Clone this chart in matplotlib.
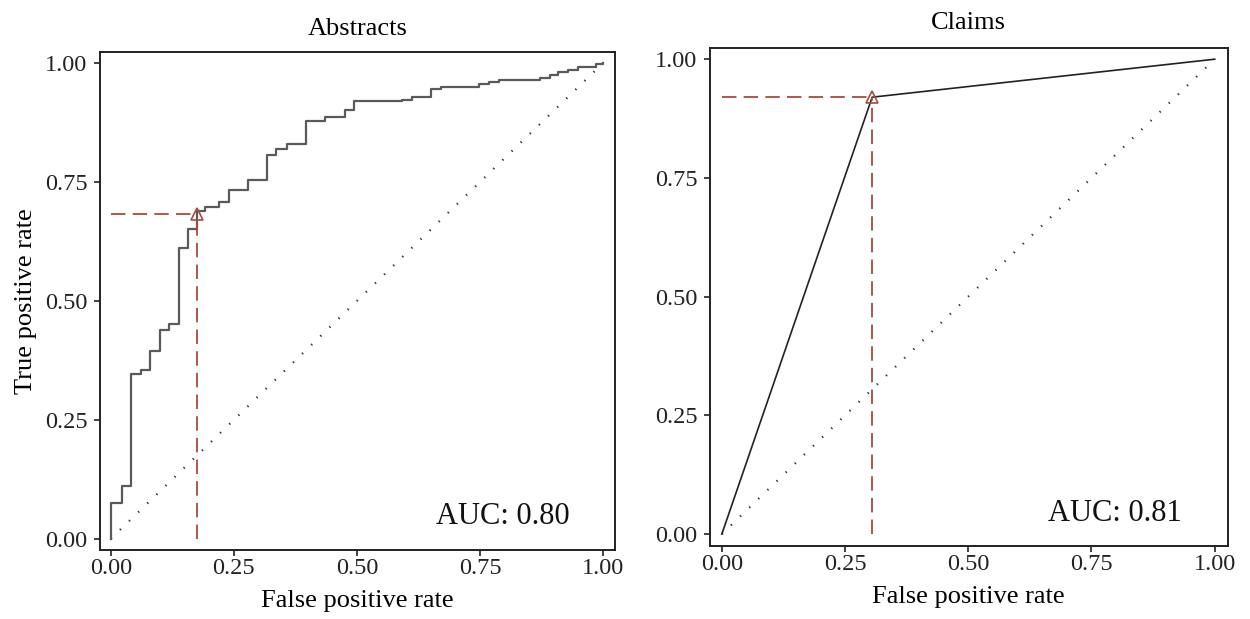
import matplotlib
matplotlib.use("Agg")
import matplotlib.pyplot as plt

plt.rcParams["font.family"] = ["Liberation Serif", "DejaVu Serif"]

# ── DATA ──────────────────────────────────────────────────────────────────────

# Abstracts ROC curve (step vertices: fpr, tpr after each jump)
abs_fpr = [0.0, 0.0, 0.022, 0.041, 0.061, 0.080, 0.100, 0.119, 0.138, 0.157,
           0.175, 0.192, 0.219, 0.240, 0.279, 0.318, 0.335, 0.357, 0.397,
           0.435, 0.475, 0.494, 0.591, 0.611, 0.651, 0.671, 0.748, 0.768,
           0.789, 0.871, 0.891, 0.908, 0.928, 0.949, 0.986, 1.0]
abs_tpr = [0.0, 0.075, 0.111, 0.347, 0.355, 0.395, 0.438, 0.452, 0.611, 0.651,
           0.688, 0.698, 0.707, 0.733, 0.753, 0.807, 0.820, 0.829, 0.877,
           0.886, 0.902, 0.919, 0.922, 0.928, 0.945, 0.950, 0.955, 0.960,
           0.964, 0.969, 0.975, 0.982, 0.985, 0.991, 0.998, 1.0]
abs_best = (0.175, 0.683)
abs_auc = "AUC: 0.80"

# Claims ROC curve (single threshold)
clm_fpr = [0.0, 0.305, 1.0]
clm_tpr = [0.0, 0.920, 1.0]
clm_best = (0.305, 0.920)
clm_auc = "AUC: 0.81"

ticks = [0.0, 0.25, 0.5, 0.75, 1.0]
tick_labels = ["0.00", "0.25", "0.50", "0.75", "1.00"]

RED = "#a84a3e"


def style_axes(ax, title, xlim, ylim, title_pad):
    ax.set_xlim(*xlim)
    ax.set_ylim(*ylim)
    ax.set_xticks(ticks)
    ax.set_xticklabels(tick_labels)
    ax.set_yticks(ticks)
    ax.set_yticklabels(tick_labels)
    ax.tick_params(direction="out", length=4, width=1.2, labelsize=17.5,
                   colors="#222222")
    ax.tick_params(axis="y", pad=5)
    ax.tick_params(axis="x", pad=2)
    for s in ax.spines.values():
        s.set_linewidth(1.4)
        s.set_color("#222222")
    ax.set_title(title, fontsize=19, pad=title_pad)
    ax.set_xlabel("False positive rate", fontsize=19, labelpad=8)


def draw_roc(ax, fpr, tpr, best, auc, step):
    ax.plot([0, 1], [0, 1], color="#333333", lw=1.6, linestyle=(0, (0.6, 5.1)))
    if step:
        ax.step(fpr, tpr, where="post", color="#5a5a5a", lw=1.6)
    else:
        ax.plot(fpr, tpr, color="#222222", lw=1.2)
    bx, by = best
    ax.plot([0, bx], [by, by], color=RED, lw=1.3, linestyle=(0, (8, 4)))
    ax.plot([bx, bx], [0, by], color=RED, lw=1.3, linestyle=(0, (8, 4)))
    ax.plot([bx], [by], marker="^", markersize=9, markerfacecolor="none",
            markeredgecolor=RED, markeredgewidth=1.2)
    ax.text(0.911, 0.051, auc, transform=ax.transAxes, ha="right",
            va="baseline", fontsize=22, color="#111111")


fig = plt.figure(figsize=(12.5, 6.19), dpi=100)

ax1 = fig.add_axes([0.080, 0.112, 0.412, 0.804])
draw_roc(ax1, abs_fpr, abs_tpr, abs_best, abs_auc, step=True)
style_axes(ax1, "Abstracts", (-0.022, 1.024), (-0.023, 1.023), 12)
ax1.set_ylabel("True positive rate", fontsize=19, labelpad=6)

ax2 = fig.add_axes([0.568, 0.118, 0.414, 0.804])
draw_roc(ax2, clm_fpr, clm_tpr, clm_best, clm_auc, step=False)
style_axes(ax2, "Claims", (-0.024, 1.026), (-0.025, 1.023), 14)

fig.savefig("out.png", dpi=100)
